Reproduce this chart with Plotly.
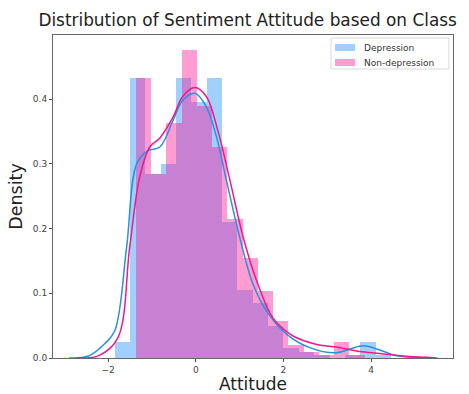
import plotly.graph_objects as go

# ---------------- data ----------------
dep_bin_start = -1.849
dep_bin_width = 0.350
dep_heights = [0.024, 0.432, 0.285, 0.300, 0.432, 0.395, 0.432, 0.210, 0.105,
               0.085, 0.050, 0.015, 0.010, 0.005, 0.000, 0.005, 0.024, 0.005]

non_bin_start = -1.370
non_bin_width = 0.348
non_heights = [0.432, 0.285, 0.363, 0.476, 0.390, 0.326, 0.215, 0.155, 0.104,
               0.057, 0.020, 0.010, 0.005, 0.025, 0.005]

dep_kde_x = [-2.9, -2.45, -2.08, -1.85, -1.58, -1.35, -1.10, -0.82, -0.52, -0.30,
             -0.02, 0.24, 0.47, 0.70, 1.00, 1.30, 1.61, 2.07, 2.60, 3.21, 3.52,
             3.82, 4.13, 4.50, 4.89, 5.3]
dep_kde_y = [0.000, 0.003, 0.022, 0.042, 0.171, 0.300, 0.320, 0.326, 0.367, 0.398,
             0.409, 0.388, 0.342, 0.274, 0.187, 0.115, 0.073, 0.037, 0.016, 0.008,
             0.014, 0.019, 0.014, 0.005, 0.001, 0.000]

non_kde_x = [-2.7, -2.2, -1.78, -1.51, -1.28, -1.05, -0.82, -0.52, -0.30, -0.02,
             0.24, 0.50, 0.78, 1.08, 1.39, 1.76, 2.22, 2.76, 3.29, 3.74, 4.20,
             4.73, 5.27, 5.5]
non_kde_y = [0.000, 0.004, 0.031, 0.171, 0.280, 0.326, 0.340, 0.372, 0.404, 0.418,
             0.404, 0.352, 0.274, 0.187, 0.119, 0.062, 0.034, 0.021, 0.016, 0.010,
             0.007, 0.003, 0.001, 0.000]

series_names = ["Depression", "Non-depression"]
x_ticks = [-2, 0, 2, 4]
y_ticks = [0.0, 0.1, 0.2, 0.3, 0.4]

# ---------------- styling ----------------
W, H = 469, 394
L, R, T, B = 53, 16, 35, 36
bar_colors = ["rgba(30,144,255,0.42)", "rgba(255,20,147,0.42)"]
line_colors = ["#2C8FE0", "#F0188C"]
font_family = "DejaVu Sans"

def centers(start, width, n):
    return [start + width * (i + 0.5) for i in range(n)]

fig = go.Figure()
fig.add_trace(go.Bar(
    x=centers(dep_bin_start, dep_bin_width, len(dep_heights)), y=dep_heights,
    width=dep_bin_width, name=series_names[0], showlegend=False,
    marker=dict(color=bar_colors[0], line=dict(width=0))))
fig.add_trace(go.Bar(
    x=centers(non_bin_start, non_bin_width, len(non_heights)), y=non_heights,
    width=non_bin_width, name=series_names[1], showlegend=False,
    marker=dict(color=bar_colors[1], line=dict(width=0))))
fig.add_trace(go.Scatter(x=dep_kde_x, y=dep_kde_y, mode="lines", showlegend=False,
                         line=dict(color=line_colors[0], width=1.5, shape="spline")))
fig.add_trace(go.Scatter(x=non_kde_x, y=non_kde_y, mode="lines", showlegend=False,
                         line=dict(color=line_colors[1], width=1.5, shape="spline")))

# custom legend (matplotlib style) in axis-domain coordinates
pw, ph = W - L - R, H - T - B
fx = lambda px: (px - L) / pw
fy = lambda py: (H - B - py) / ph
shapes = [dict(type="rect", xref="x domain", yref="y domain",
               x0=fx(331), x1=fx(449), y0=fy(69), y1=fy(38),
               line=dict(color="#d8d8d8", width=1), fillcolor="rgba(255,255,255,0.8)",
               layer="above")]
annotations = []
for i, name in enumerate(series_names):
    cy = 47.5 + 15 * i
    shapes.append(dict(type="rect", xref="x domain", yref="y domain",
                       x0=fx(335), x1=fx(355), y0=fy(cy + 3.5), y1=fy(cy - 3.5),
                       line=dict(width=0), fillcolor=bar_colors[i], layer="above"))
    annotations.append(dict(xref="x domain", yref="y domain", x=fx(362), y=fy(cy),
                            xanchor="left", yanchor="middle", showarrow=False,
                            text=name, font=dict(size=9, color="#333")))

fig.update_layout(
    width=W, height=H,
    margin=dict(l=L, r=R, t=T, b=B),
    barmode="overlay", bargap=0,
    paper_bgcolor="white", plot_bgcolor="white",
    font=dict(family=font_family, color="#333"),
    title=dict(text="Distribution of Sentiment Attitude based on Class",
               x=0.528, xanchor="center", y=1 - 20 / H, yanchor="middle",
               font=dict(size=16.9, color="#222")),
    shapes=shapes, annotations=annotations,
    showlegend=False,
)
fig.update_xaxes(range=[-3.26, 5.87], tickvals=x_ticks, ticks="outside", ticklen=3,
                 tickcolor="#555", tickfont=dict(size=9, color="#444"),
                 showgrid=False, zeroline=False, showline=True, linecolor="#666",
                 linewidth=1, mirror=True, automargin=False,
                 title=dict(text="Attitude", font=dict(size=17, color="#222"), standoff=5))
fig.update_yaxes(range=[0, 0.499], tickvals=y_ticks, tickformat=".1f", ticks="outside",
                 ticklen=3, tickcolor="#555", tickfont=dict(size=9, color="#444"),
                 showgrid=False, zeroline=False, showline=True, linecolor="#666",
                 linewidth=1, mirror=True, automargin=False,
                 title=dict(text="Density", font=dict(size=17.5, color="#222"), standoff=5))

fig.write_html("out.html", config={"displayModeBar": False},
               post_script="document.body.style.margin='0';document.body.style.overflow='hidden';")
